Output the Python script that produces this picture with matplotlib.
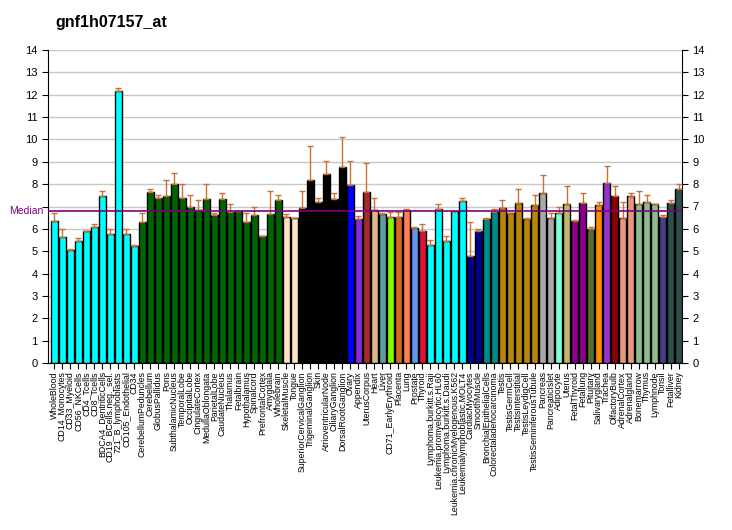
import matplotlib
matplotlib.use("Agg")
import matplotlib.pyplot as plt

# donnees
labels = ["WholeBlood", "CD14_Monocytes", "CD33_Myeloid", "CD56_NKCells", "CD4_Tcells",
          "CD8_Tcells", "BDCA4_DentriticCells", "CD19_BCells.neg._sel.", "721_B_lymphoblasts",
          "CD105_Endothelial", "CD34", "CerebellumPeduncles", "Cerebellum", "GlobusPallidus",
          "Pons", "SubthalamicNucleus", "TemporalLobe", "OccipitalLobe", "CingulateCortex",
          "MedullaOblongata", "ParietalLobe", "CaudateNucleus", "Thalamus", "Fetalbrain",
          "Hypothalamus", "Spinalcord", "PrefrontalCortex", "Amygdala", "Wholebrain",
          "SkeletalMuscle", "Tongue", "SuperiorCervicalGanglion", "TrigeminalGanglion", "Skin",
          "AtrioventricularNode", "CiliaryGanglion", "DorsalRootGanglion", "Ovary", "Appendix",
          "UterusCorpus", "Heart", "Liver", "CD71_EarlyErythroid", "Placenta", "Lung",
          "Prostate", "Thyroid", "Lymphoma.burkitt.s.Raji", "Leukemia.promyelocytic.HL60",
          "Lymphoma.burkitt.s.Daudi", "Leukemia.chronicMyelogenous.K562",
          "Leukemialymphoblastic.MOLT4", "CardiacMyocytes", "SmoothMuscle",
          "BronchialEpithelialCells", "Colorectaladenocarcinoma", "Testis", "TestisGermCell",
          "TestisInterstitial", "TestisLeydigCell", "TestisSeminiferousTubule", "Pancreas",
          "PancreaticIslet", "Adipocyte", "Uterus", "FetalThyroid", "Fetallung", "Pituitary",
          "Salivarygland", "Trachea", "OlfactoryBulb", "AdrenalCortex", "Adrenalgland",
          "Bonemarrow", "Thymus", "Lymphnode", "Tonsil", "Fetalliver", "Kidney"]

values = [6.36, 5.64, 5.06, 5.46, 5.91, 6.10, 7.48, 5.78, 12.18, 5.78, 5.24,
          6.31, 7.66, 7.36, 7.48, 8.01, 7.39, 6.99, 6.85, 7.34, 6.62, 7.32, 6.75, 6.78,
          6.29, 6.60, 5.66, 6.65, 7.27,
          6.51, 6.47,
          6.92, 8.17, 7.20, 8.45, 7.32, 8.75,
          7.95, 6.43, 7.63, 6.83, 6.65, 6.51, 6.51, 6.83, 6.02, 5.89,
          5.26, 6.87, 5.44, 6.78, 7.23,
          4.77, 5.89, 6.43, 6.74, 6.92, 6.69, 7.14, 6.43, 7.05, 7.59, 6.47,
          6.69, 7.10, 6.34, 7.14, 5.98, 7.05, 8.04, 7.45, 6.47, 7.45, 7.10, 7.19, 7.10,
          6.51, 7.14, 7.77]

err_top = [6.72, 6.00, 5.10, 5.60, 5.91, 6.22, 7.70, 6.00, 12.31, 6.00, 5.28,
           6.72, 7.79, 7.52, 8.19, 8.51, 8.01, 7.52, 7.30, 8.01, 6.70, 7.59, 7.10, 6.78,
           6.69, 6.96, 5.66, 7.68, 7.50,
           6.68, 6.47,
           7.68, 9.69, 7.36, 9.05, 7.59, 10.09,
           9.05, 6.59, 8.96, 7.36, 6.69, 6.75, 6.75, 6.87, 6.07, 6.20,
           5.49, 7.10, 5.66, 6.78, 7.36,
           6.29, 5.98, 6.47, 6.87, 7.27, 6.69, 7.77, 6.47, 7.50, 8.39, 6.69,
           6.96, 7.90, 6.38, 7.59, 6.07, 7.19, 8.80, 7.90, 7.19, 7.59, 7.68, 7.50, 7.10,
           6.60, 7.27, 7.99]

colors = (["#00FFFF"] * 11 + ["#006400"] * 18 + ["#FFE4C4"] * 2 + ["#000000"] * 6 +
          ["#0000FF", "#8A2BE2", "#A52A2A", "#DEB887", "#5F9EA0", "#7FFF00", "#D2691E",
           "#FF7F50", "#6495ED", "#DC143C"] +
          ["#00FFFF"] * 5 + ["#00008B"] * 2 + ["#008B8B"] * 2 + ["#B8860B"] * 5 +
          ["#A9A9A9"] * 2 + ["#7FFFD4", "#BDB76B", "#8B008B", "#8B008B", "#556B2F",
                             "#FF8C00", "#9932CC", "#8B0000", "#E9967A", "#E9967A"] +
          ["#8FBC8F"] * 3 + ["#483D8B", "#2F4F4F", "#2F4F4F"])

median = 6.78
title = "gnf1h07157_at"

plt.rcParams['font.family'] = ['Liberation Sans', 'DejaVu Sans']

fig = plt.figure(figsize=(7.32, 5.30), dpi=100)
ax = fig.add_axes([48 / 732, 167 / 530, 634 / 732, 313 / 530])

x = list(range(len(values)))
errs = [e - v for e, v in zip(err_top, values)]

ax.set_axisbelow(True)
ax.yaxis.grid(True, color="#C8C8C8", linewidth=1)
ax.bar(x, values, width=0.8, color=colors, edgecolor="black", linewidth=1, zorder=2)
ax.errorbar(x, values, yerr=[[0] * len(errs), errs], fmt="none", ecolor="#C87137",
            elinewidth=1, capsize=2.5, capthick=1, zorder=3)
ax.axhline(median, color="#800080", linewidth=1.2, zorder=4)

ax.set_xlim(-0.79, 78.43)
ax.set_ylim(0, 14)
ax.set_yticks(range(15))
ax.tick_params(axis="y", labelsize=8, length=4, right=True, labelright=True)
# le 7 de gauche est cache par le texte Median
ax.figure.canvas.draw()
ax.yaxis.get_majorticklabels()[7].set_visible(False)
ax.set_xticks(x)
ax.set_xticklabels(labels, rotation=90, fontsize=6.3)
ax.tick_params(axis="x", length=4, pad=2)
ax.spines["top"].set_visible(False)

fig.text(9 / 732, 1 - 211 / 530, "Median", color="#800080", fontsize=7.5, va="center")
fig.text(55 / 732, 1 - 23 / 530, title, fontsize=11.5, fontweight="bold", va="center")

fig.savefig("out.png", dpi=100)
